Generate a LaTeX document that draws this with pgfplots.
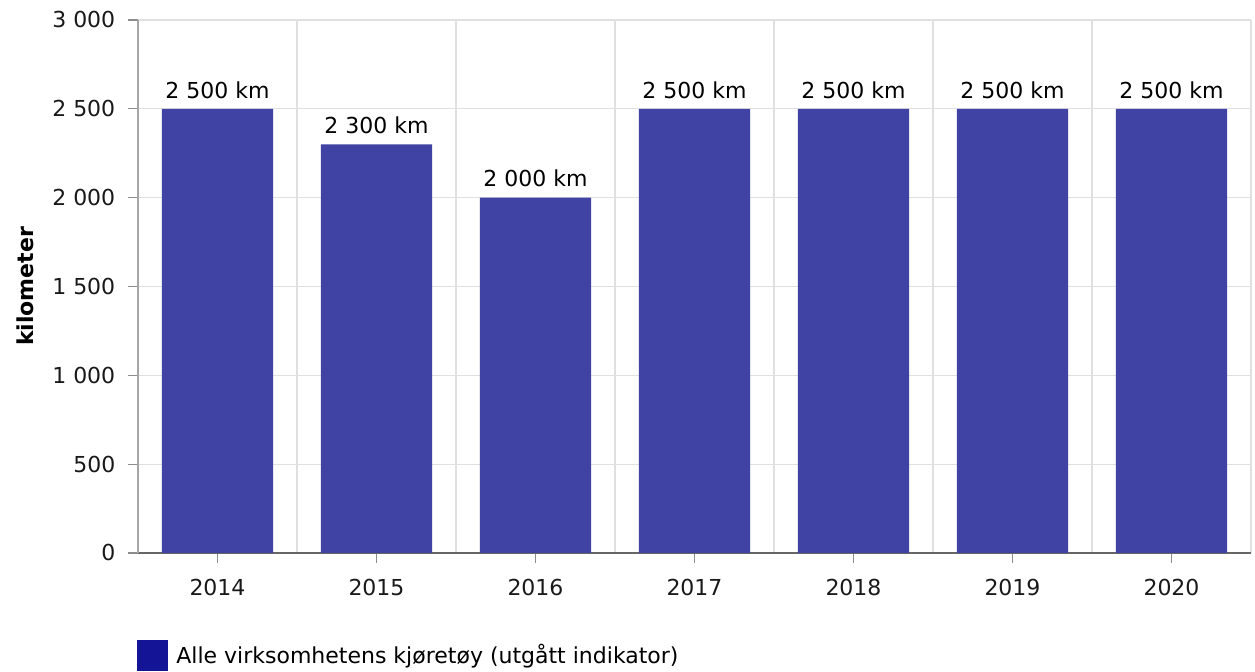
\documentclass[border=0pt]{standalone}
\usepackage{fontspec}
\setmainfont{DejaVu Sans}
\usepackage{pgfplots}
\pgfplotsset{compat=1.18}
\definecolor{barc}{RGB}{64,67,163}
\definecolor{legc}{RGB}{20,20,150}
\definecolor{gridc}{RGB}{224,224,224}
\begin{document}
\fontsize{11pt}{13pt}\selectfont
\begin{tikzpicture}
\path[use as bounding box] (-69pt,-59.5pt) rectangle (558.5pt,276.5pt);
\begin{axis}[
  at={(0,0)}, anchor=south west,
  scale only axis, width=556.5pt, height=266.5pt,
  xmin=-0.5, xmax=6.5, ymin=0, ymax=3000,
  enlarge x limits=false,
  xtick={0,...,6},
  xticklabels={2014,2015,2016,2017,2018,2019,2020},
  minor xtick={0.5,1.5,...,6.5},
  ytick={0,500,...,3000},
  ymajorgrids, xminorgrids,
  grid style={draw=gridc, line width=0.6pt},
  minor grid style={draw=gridc, line width=0.6pt},
  axis x line*=bottom, axis y line*=left,
  axis line style={-},
  x axis line style={draw=black!60, line width=0.8pt},
  y axis line style={draw=black!35, line width=0.8pt},
  tick align=outside,
  major tick length=5pt, minor tick length=0pt,
  tick style={draw=black!45, line width=0.6pt},
  /pgf/number format/.cd, assume math mode=true, 1000 sep={\ }, /pgfplots/.cd,
  ticklabel style={font=\fontsize{11pt}{13pt}\selectfont, text=black!90},
  yticklabel style={xshift=-2.5pt},
  xticklabel style={yshift=-4pt},
  ylabel={\bfseries kilometer},
  ylabel style={at={(axis description cs:-0.10153,0.5)}, anchor=center, font=\fontsize{11pt}{13pt}\selectfont},
  ybar, bar width=0.7,
  nodes near coords,
  point meta=explicit symbolic,
  every node near coord/.append style={anchor=south, inner sep=0pt, yshift=5pt, font=\fontsize{11pt}{13pt}\selectfont, text=black},
  legend style={at={(axis description cs:0,0)}, anchor=west, xshift=-0.5pt, yshift=-51.25pt, draw=none, inner sep=0pt, fill=none, font=\fontsize{11pt}{13pt}\selectfont, legend cell align=left},
  legend image code/.code={\fill[legc] (0pt,-7.75pt) rectangle (15.5pt,7.75pt); \path (17.5pt,0pt);},
]
\addplot[fill=barc, draw=none] coordinates {
  (0,2500) [2 500 km]
  (1,2300) [2 300 km]
  (2,2000) [2 000 km]
  (3,2500) [2 500 km]
  (4,2500) [2 500 km]
  (5,2500) [2 500 km]
  (6,2500) [2 500 km]
};
\addlegendentry{Alle virksomhetens kjøretøy (utgått indikator)}
\end{axis}
\end{tikzpicture}
\end{document}
